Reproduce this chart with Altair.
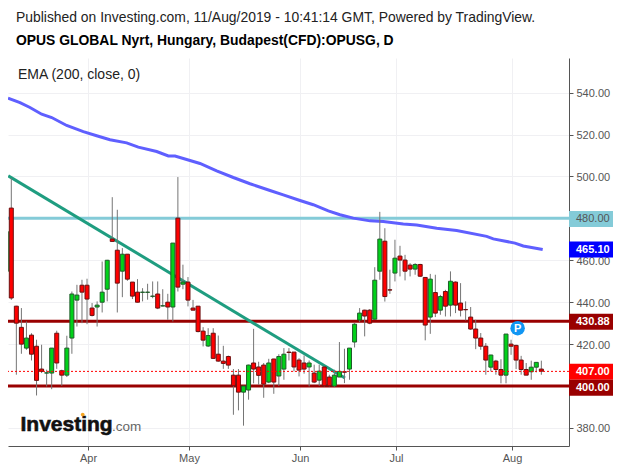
import altair as alt
import pandas as pd

# candle rows: direction, high, body top, body bottom, low (one entry per session)
dirs = list("grrrgrrrggrrgggrrrgg" "grrgrrrgggrgrgrgrrrr" "grrrrrrggrrrgrggrrrr" "grgrrggrgggrrggrrgrr" "rgrrgrgrgrrrrrrrgrrg" "rrrrggr")
highs = [476.0, 499.2, 438.3, 437.2, 430.8, 425.2, 422.1, 419.7, 407.8, 418.1, 426.4, 407.8, 424.0, 445.1, 448.3, 450.7, 451.2, 439.6, 440.4, 459.4,
         460.2, 490.1, 484.1, 465.8, 462.9, 449.6, 451.0, 446.7, 448.8, 449.9, 449.9, 446.2, 444.0, 468.2, 499.7, 457.9, 452.0, 441.1, 438.1, 428.1,
         427.6, 427.6, 424.1, 419.2, 414.5, 408.1, 408.1, 400.1, 410.2, 427.3, 411.6, 411.0, 413.0, 413.0, 415.2, 418.1, 418.1, 416.2, 413.3, 414.6,
         412.2, 410.2, 410.2, 409.4, 405.4, 407.8, 421.0, 417.8, 418.1, 430.0, 437.2, 436.4, 436.7, 456.7, 483.1, 475.3, 455.5, 469.8, 466.9, 462.6,
         458.6, 458.6, 458.3, 452.0, 453.5, 453.1, 443.5, 445.9, 454.7, 449.9, 449.1, 440.4, 437.7, 431.6, 425.3, 420.5, 414.9, 412.5, 412.8, 424.8,
         422.1, 419.7, 414.4, 411.0, 412.1, 411.4, 412.1]
tops = [473.7, 484.9, 438.1, 428.0, 422.9, 424.3, 419.0, 408.1, 406.3, 418.1, 425.2, 407.3, 418.1, 443.9, 443.4, 448.1, 448.1, 437.2, 438.6, 444.8,
        460.0, 470.1, 464.8, 462.9, 462.9, 449.6, 444.8, 444.8, 444.8, 442.9, 443.9, 438.3, 440.0, 468.2, 480.1, 449.6, 449.6, 437.2, 438.1, 426.2,
        424.1, 425.2, 415.2, 411.9, 414.1, 405.2, 405.2, 400.0, 410.0, 411.0, 409.1, 410.0, 411.0, 412.9, 414.1, 415.2, 416.2, 416.2, 412.4, 411.0,
        411.0, 406.2, 407.1, 409.1, 404.3, 405.2, 407.0, 406.8, 418.1, 429.5, 434.8, 436.2, 436.2, 450.5, 470.1, 469.1, 445.9, 461.0, 462.0, 460.1,
        457.7, 458.0, 458.0, 451.8, 451.0, 444.6, 442.7, 445.1, 450.0, 449.6, 439.6, 436.5, 432.9, 427.2, 422.9, 419.0, 414.8, 411.9, 407.9, 424.8,
        420.0, 419.4, 412.4, 407.9, 409.0, 411.3, 408.1]
bottoms = [454.7, 442.0, 430.0, 420.0, 418.1, 415.2, 402.7, 407.0, 406.2, 406.2, 411.0, 405.2, 405.2, 422.9, 441.0, 444.8, 441.5, 433.7, 437.7, 440.0,
           446.2, 469.0, 449.1, 454.8, 451.0, 442.9, 440.0, 444.7, 444.7, 442.8, 437.2, 438.2, 437.7, 437.7, 447.2, 448.6, 441.0, 436.2, 426.0, 421.9,
           419.1, 413.2, 411.9, 410.8, 410.0, 400.1, 397.1, 397.1, 398.1, 408.1, 405.1, 400.9, 401.9, 401.9, 404.8, 408.1, 416.0, 409.1, 407.6, 408.1,
           409.1, 401.9, 402.8, 400.1, 400.1, 400.0, 404.3, 406.6, 408.1, 421.0, 431.5, 433.4, 430.0, 431.9, 454.8, 442.7, 445.8, 453.9, 460.1, 454.8,
           455.8, 455.8, 452.4, 429.1, 432.9, 434.8, 436.2, 438.1, 438.6, 438.6, 436.2, 436.4, 427.2, 422.9, 419.0, 412.4, 409.0, 407.9, 405.2, 405.2,
           419.0, 412.4, 407.9, 405.2, 406.8, 409.0, 407.1]
lows = [452.0, 441.1, 405.4, 415.4, 417.3, 412.2, 395.5, 406.2, 399.8, 398.5, 408.2, 400.1, 404.3, 415.4, 428.4, 430.0, 429.5, 433.2, 428.4, 435.1,
        440.4, 469.0, 435.1, 442.4, 450.2, 441.5, 439.9, 440.4, 441.2, 441.9, 436.7, 438.0, 431.6, 430.8, 445.1, 446.2, 438.0, 436.1, 425.6, 418.9,
        418.6, 412.9, 411.6, 408.2, 408.2, 386.3, 388.4, 381.1, 393.5, 401.3, 400.6, 394.4, 401.4, 396.3, 400.0, 403.0, 412.2, 407.0, 404.6, 405.9,
        399.8, 401.4, 400.1, 399.8, 399.8, 399.5, 404.3, 401.4, 403.0, 418.4, 430.5, 423.7, 429.5, 431.6, 450.7, 440.3, 444.0, 449.9, 452.3, 450.4,
        452.3, 453.1, 452.0, 421.8, 424.9, 432.9, 434.0, 433.2, 433.2, 434.8, 433.2, 431.3, 426.8, 417.6, 417.3, 405.4, 407.0, 405.4, 401.3, 401.3,
        414.9, 408.1, 405.4, 405.2, 403.0, 406.5, 405.4]

ema_i = [0.35, 2.72, 4.70, 7.02, 9.0, 11.97, 15.27, 17.91, 20.55, 23.85, 26.16, 29.80, 32.11, 33.43, 36.40, 38.38, 41.68, 44.98, 48.29,
         52.25, 54.88, 58.19, 60.82, 63.80, 66.11, 68.75, 72.06, 74.69, 78.65, 81.31, 85.27, 89.23, 95.17, 96.48, 100.78, 102.42, 106.27]
ema_v = [537.3, 535.2, 532.9, 529.7, 528.1, 524.3, 521.4, 519.4, 517.5, 516.0, 514.0, 511.9, 509.8, 509.7, 507.6, 506.2, 502.7, 499.5, 496.5,
         493.3, 491.2, 488.5, 486.5, 483.6, 481.7, 480.1, 478.8, 478.5, 477.3, 476.8, 475.3, 474.2, 471.4, 470.2, 468.2, 466.8, 465.1]

trend_i = [0.4, 67.1]
trend_v = [500.3, 403.8]

month_ticks = [16.2, 36.2, 58.2, 77.2, 100.2]
month_names = ["Apr", "May", "Jun", "Jul", "Aug"]
y_ticks = [380, 400, 420, 440, 460, 480, 500, 520, 540]

# price chips on the axis: text, chip centre, fill, text colour, weight
lines = [("480.00", 479.7, "#84cbd8", "#555555", "normal"),
         ("465.10", 465.1, "#0000ff", "#ffffff", "bold"),
         ("430.88", 430.7, "#990000", "#ffffff", "bold"),
         ("407.00", 406.8, "#ff0000", "#ffffff", "bold"),
         ("400.00", 399.15, "#990000", "#ffffff", "bold")]
hlines = [480.0, 430.88, 400.0]
hline_colors = ["#84cbd8", "#990000", "#990000"]
last_price = [407.0]
pin_i, pin_v = [101.3], [427.6]

FONT = "Liberation Sans"
W, H = 561, 388
PL, PT = 0, 50

idx = list(range(len(highs)))
candles = pd.DataFrame({"i": idx, "d": dirs, "h": highs, "t": tops, "b": bottoms, "l": lows})

xs = alt.Scale(domain=[0.346, 111.48], nice=False, zero=False, padding=0)
ys = alt.Scale(domain=[371.4, 556.5], nice=False, zero=False)
xaxis = alt.Axis(values=month_ticks, title=None, grid=True, gridColor="#f0f0f3", domainColor="#555555",
                 tickColor="#555555", tickSize=4, labelColor="#555555", labelFont=FONT, labelFontSize=11, labelPadding=2,
                 labelExpr="%s[indexof(%s, datum.value)]" % (month_names, month_ticks))
yaxis = alt.Axis(values=y_ticks, title=None, orient="right", grid=True, gridColor="#f0f0f3", domainColor="#555555",
                 tickColor="#555555", tickSize=4, labelColor="#555555", labelFont=FONT, labelFontSize=11,
                 labelPadding=3, labelOffset=1, format=".2f")
X = lambda f: alt.X(f, scale=xs, axis=xaxis)
Y = lambda f: alt.Y(f, scale=ys, axis=yaxis)

hl = alt.Chart(pd.DataFrame({"v": hlines, "c": hline_colors})).mark_rule(strokeWidth=3).encode(
    y=Y("v:Q"), color=alt.Color("c:N", scale=None))

trend = alt.Chart(pd.DataFrame({"i": trend_i, "v": trend_v})).mark_line(color="#1f9d80", strokeWidth=3, clip=True).encode(
    x=X("i:Q"), y=Y("v:Q"))

ema = alt.Chart(pd.DataFrame({"i": ema_i, "v": ema_v})).mark_line(color="#5f5fff", strokeWidth=3, clip=True).encode(
    x=X("i:Q"), y=Y("v:Q"))

wicks = alt.Chart(candles).mark_rule(color="#757575", strokeWidth=1, clip=True).encode(
    x=X("i:Q"), y=Y("h:Q"), y2="l:Q")

fill = alt.Scale(domain=["g", "r"], range=["#00d219", "#ff0000"])
edge = alt.Scale(domain=["g", "r"], range=["#1f5c2a", "#6b1010"])
bodies = alt.Chart(candles).mark_bar(size=4, strokeWidth=1, clip=True).encode(
    x=X("i:Q"), y=Y("t:Q"), y2="b:Q",
    fill=alt.Fill("d:N", scale=fill, legend=None),
    stroke=alt.Stroke("d:N", scale=edge, legend=None))

last = alt.Chart(pd.DataFrame({"v": last_price})).mark_rule(color="#ff0000", strokeWidth=1, strokeDash=[2, 2]).encode(y=Y("v:Q"))

chipdf = pd.DataFrame(lines, columns=["s", "v", "bg", "fg", "w"])
chips = alt.Chart(chipdf).mark_rule(strokeWidth=16).encode(
    y=Y("v:Q"), x=alt.value(W), x2=alt.value(W + 44), color=alt.Color("bg:N", scale=None))
chiptext = alt.Chart(chipdf[chipdf.w == "bold"]).mark_text(font=FONT, fontSize=11, fontWeight="bold", align="left", baseline="middle", dy=0.5).encode(
    y=Y("v:Q"), x=alt.value(W + 7), text="s:N", color=alt.Color("fg:N", scale=None))
chiptext2 = alt.Chart(chipdf[chipdf.w == "normal"]).mark_text(font=FONT, fontSize=11, align="left", baseline="middle", dy=0.5).encode(
    y=Y("v:Q"), x=alt.value(W + 7), text="s:N", color=alt.Color("fg:N", scale=None))

pin = alt.Chart(pd.DataFrame({"i": pin_i, "v": pin_v})).mark_point(filled=True, shape="circle", size=210, color="#1196f3", opacity=1).encode(
    x=X("i:Q"), y=Y("v:Q"))
pintext = alt.Chart(pd.DataFrame({"i": pin_i, "v": pin_v, "s": ["P"]})).mark_text(
    font=FONT, fontSize=11, fontWeight="bold", color="#ffffff", baseline="middle", dy=0.5).encode(
    x=X("i:Q"), y=Y("v:Q"), text="s:N")


def label(s, x, y, size, color="#222222", weight="normal", stroke=0):
    kw = {"stroke": color, "strokeWidth": stroke} if stroke else {}
    return alt.Chart(pd.DataFrame({"s": [s]})).mark_text(
        font=FONT, fontSize=size, fontWeight=weight, color=color, align="left", baseline="alphabetic", **kw).encode(
        x=alt.value(x - 8), y=alt.value(y - 58), text="s:N")


texts = [
    label("Published on Investing.com, 11/Aug/2019 - 10:41:14 GMT, Powered by TradingView.", 16, 22, 13.9),
    label("OPUS GLOBAL Nyrt, Hungary, Budapest(CFD):OPUSG, D", 16, 45, 13.9, "#000000", "bold"),
    label("EMA (200, close, 0)", 18, 79, 14),
    label("Investing", 20.5, 431, 21, "#111111", "bold", 0.6),
    label(".com", 112, 431, 13.5, "#666666"),
]
dot = alt.Chart(pd.DataFrame({"s": ["dot"]})).mark_point(filled=True, shape="circle", size=14, color="#f5a623", opacity=1).encode(
    x=alt.value(82.7 - 8), y=alt.value(414.5 - 58))

chart = alt.layer(hl, trend, ema, wicks, bodies, last, pin, pintext, chips, chiptext, chiptext2, *texts, dot).properties(
    width=W, height=H, autosize=alt.AutoSizeParams(type="none"),
    padding={"left": PL, "top": PT, "right": 44, "bottom": 24}
).configure_view(stroke=None)

chart.save("out.html", embed_options={"renderer": "svg", "actions": False})
